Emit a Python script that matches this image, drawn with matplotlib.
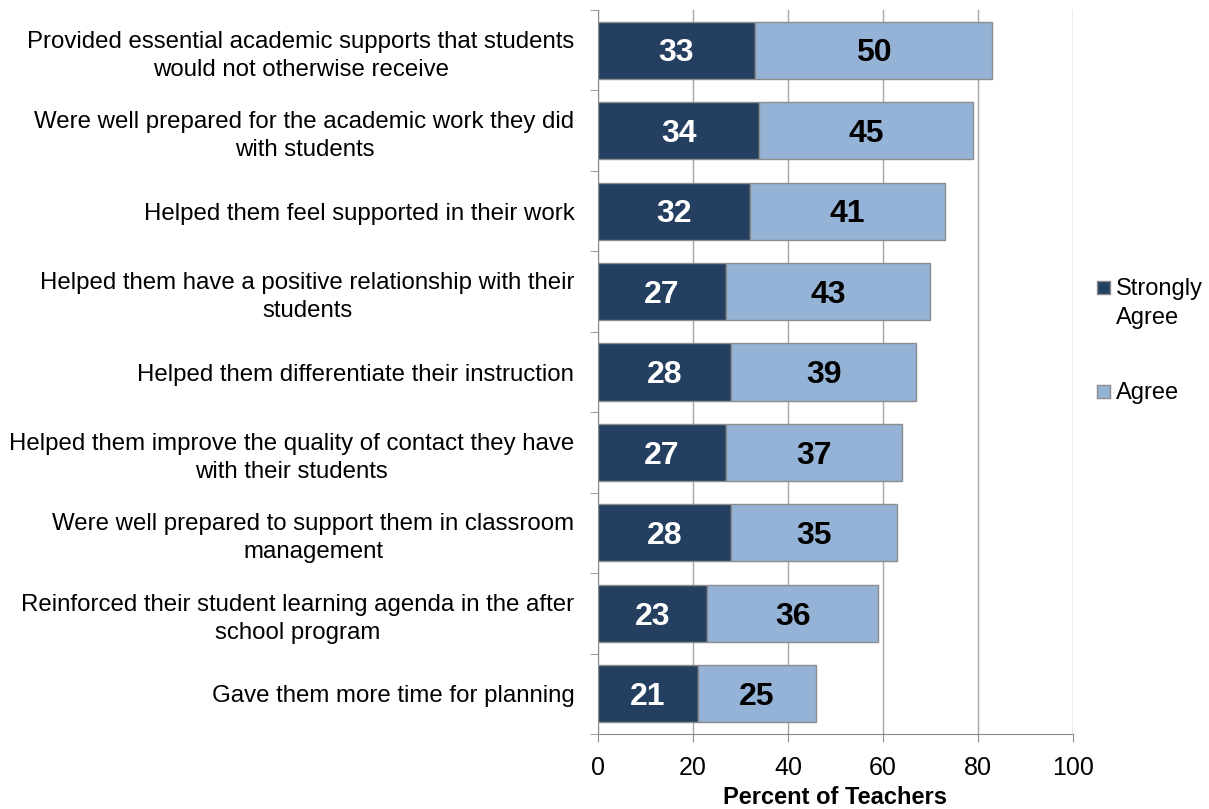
import matplotlib.pyplot as plt
from matplotlib.patches import Rectangle
import numpy as np

plt.rcParams['font.family'] = ['Liberation Sans', 'DejaVu Sans']

# Survey items, top to bottom as shown
items = [
    "Provided essential academic supports that students\nwould not otherwise receive",
    "Were well prepared for the academic work they did\nwith students",
    "Helped them feel supported in their work",
    "Helped them have a positive relationship with their\nstudents",
    "Helped them differentiate their instruction",
    "Helped them improve the quality of contact they have\nwith their students",
    "Were well prepared to support them in classroom\nmanagement",
    "Reinforced their student learning agenda in the after\nschool program",
    "Gave them more time for planning",
]
strongly_agree = [33, 34, 32, 27, 28, 27, 28, 23, 21]
agree = [50, 45, 41, 43, 39, 37, 35, 36, 25]
series_names = ['Strongly\nAgree', 'Agree']

dark = '#243F60'
light = '#95B3D7'
edge = '#8C8C8C'

fig = plt.figure(figsize=(12.09, 8.09), dpi=100)
ax = fig.add_axes([0.4946, 0.0927, 0.8875 - 0.4946, 0.9876 - 0.0927])

y = np.arange(len(items))[::-1]
h = 0.71
ax.barh(y, strongly_agree, height=h, color=dark, edgecolor=edge, linewidth=1,
        zorder=3)
ax.barh(y, agree, left=strongly_agree, height=h, color=light, edgecolor=edge,
        linewidth=1, zorder=3)

# value labels, nudged down a touch so the digits sit mid-bar
for yi, s, a in zip(y, strongly_agree, agree):
    ax.text(s / 2, yi - 0.04, str(s), ha='center', va='center', color='white',
            fontsize=23, fontweight='bold', zorder=4)
    ax.text(s + a / 2, yi - 0.04, str(a), ha='center', va='center', color='black',
            fontsize=23, fontweight='bold', zorder=4)

ax.set_xlim(0, 100)
ax.set_ylim(-0.5, len(items) - 0.5)
ax.set_xticks(range(0, 101, 20))
ax.xaxis.grid(True, color='#A6A6A6', linewidth=1, zorder=0)
ax.set_yticks(y)
ax.set_yticklabels(items, fontsize=17.3)
ax.tick_params(axis='y', length=0, pad=17)
ax.set_yticks(np.arange(-0.5, len(items)), minor=True)
ax.tick_params(axis='y', which='minor', length=6, color='#8C8C8C')
ax.tick_params(axis='x', length=6, color='#8C8C8C', labelsize=18, pad=10)
for lbl in ax.get_yticklabels():
    lbl.set_multialignment('center')
    lbl.set_linespacing(1.35)

for side in ['top', 'right']:
    ax.spines[side].set_visible(False)
for side in ['left', 'bottom']:
    ax.spines[side].set_color('#8C8C8C')

ax.set_xlabel('Percent of Teachers', fontsize=17, fontweight='bold', labelpad=4)

# legend: square marker lined up with the first line of each label
W, H = fig.get_size_inches() * fig.dpi
for name, col, ytop in zip(series_names, [dark, light], [281, 385]):
    fig.patches.append(Rectangle((1097 / W, 1 - (ytop + 13) / H), 13 / W, 13 / H,
                                 transform=fig.transFigure, facecolor=col,
                                 edgecolor=edge, linewidth=1))
    fig.text(1116 / W, 1 - (ytop - 3) / H, name, ha='left', va='top',
             fontsize=17, linespacing=1.4)

fig.savefig('out.png', dpi=100)
